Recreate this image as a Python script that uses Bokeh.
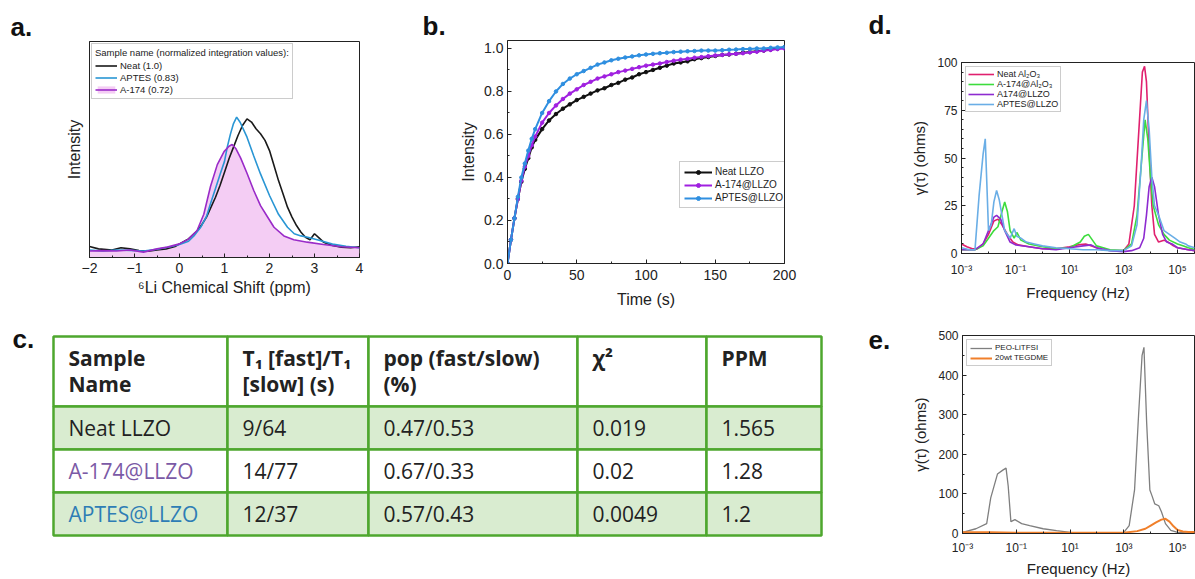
import numpy as np
from bokeh.plotting import figure
from bokeh.models import (Range1d, Label, Legend, LegendItem, FixedTicker, Title,
                          CustomJSTickFormatter, PrintfTickFormatter)
from bokeh.layouts import row, column
from bokeh.embed import file_html
from bokeh.resources import INLINE
from bokeh.core.properties import value

AX_FONT = "Liberation Sans"
TB_FONT = "Open Sans"

# ---------------- panel a : 6Li NMR spectra ----------------
a_neat_x = [-2.0, -1.8, -1.5, -1.3, -1.1, -0.9, -0.7, -0.5, -0.3, -0.1, 0.0, 0.2, 0.4, 0.5, 0.6, 0.7, 0.8, 0.9,
            1.0, 1.1, 1.2, 1.3, 1.4, 1.5, 1.6, 1.7, 1.8, 1.9, 2.0, 2.1, 2.2, 2.3, 2.4, 2.5, 2.6, 2.7, 2.8, 2.9,
            3.0, 3.1, 3.2, 3.4, 3.6, 3.8, 4.0]
a_neat_y = [0.051, 0.040, 0.035, 0.045, 0.040, 0.032, 0.029, 0.035, 0.040, 0.051, 0.063, 0.086, 0.125, 0.153,
            0.187, 0.233, 0.279, 0.333, 0.395, 0.457, 0.511, 0.565, 0.611, 0.642, 0.627, 0.596, 0.573, 0.542,
            0.495, 0.426, 0.356, 0.295, 0.233, 0.187, 0.148, 0.117, 0.094, 0.082, 0.110, 0.091, 0.071, 0.056,
            0.048, 0.045, 0.050]
a_aptes_x = [-2.0, -1.7, -1.4, -1.1, -0.8, -0.5, -0.2, 0.0, 0.2, 0.32, 0.47, 0.6, 0.69, 0.8, 0.91, 1.0, 1.06,
             1.13, 1.2, 1.27, 1.35, 1.5, 1.65, 1.8, 2.0, 2.2, 2.4, 2.55, 2.7, 2.85, 3.1, 3.4, 3.7, 4.0]
a_aptes_y = [0.035, 0.030, 0.035, 0.033, 0.030, 0.038, 0.050, 0.060, 0.075, 0.100, 0.140, 0.190, 0.250, 0.320,
             0.390, 0.445, 0.510, 0.570, 0.620, 0.650, 0.625, 0.557, 0.470, 0.387, 0.287, 0.200, 0.140, 0.110,
             0.100, 0.094, 0.080, 0.062, 0.052, 0.045]
a_a174_x = [-2.0, -1.7, -1.4, -1.1, -0.8, -0.5, -0.27, 0.0, 0.2, 0.39, 0.54, 0.69, 0.84, 0.99, 1.1, 1.17, 1.25,
            1.36, 1.5, 1.65, 1.8, 1.95, 2.1, 2.32, 2.54, 2.84, 3.2, 3.6, 4.0]
a_a174_y = [0.030, 0.032, 0.030, 0.035, 0.025, 0.040, 0.048, 0.063, 0.085, 0.125, 0.200, 0.330, 0.430, 0.490,
            0.515, 0.523, 0.505, 0.460, 0.390, 0.310, 0.240, 0.190, 0.140, 0.100, 0.082, 0.071, 0.060, 0.050,
            0.045]
a_labels = ["Neat (1.0)", "APTES (0.83)", "A-174 (0.72)"]
a_legend_title = "Sample name (normalized integration values):"
a_xticks = [-2, -1, 0, 1, 2, 3, 4]

# ---------------- panel b : T1 recovery ----------------
b_t = [0, 2.5, 5, 7.5, 10, 12.5, 15, 17.5, 20, 25, 30, 35, 40, 45, 50, 55, 60, 65, 70, 75, 80, 85, 90, 95, 100,
       105, 110, 115, 120, 125, 130, 135, 140, 145, 150, 155, 160, 165, 170, 175, 180, 185, 190, 195, 200]
b_neat = [0, 0.11, 0.21, 0.30, 0.38, 0.44, 0.49, 0.54, 0.575, 0.625, 0.665, 0.695, 0.72, 0.74, 0.76, 0.775, 0.79,
          0.805, 0.815, 0.83, 0.84, 0.855, 0.865, 0.88, 0.89, 0.90, 0.91, 0.92, 0.93, 0.935, 0.94, 0.95, 0.955,
          0.96, 0.965, 0.97, 0.972, 0.975, 0.98, 0.983, 0.987, 0.99, 0.995, 1.0, 1.005]
b_a174 = [0, 0.11, 0.21, 0.30, 0.385, 0.45, 0.50, 0.55, 0.59, 0.655, 0.70, 0.735, 0.765, 0.79, 0.81, 0.83, 0.845,
          0.86, 0.87, 0.88, 0.89, 0.897, 0.905, 0.913, 0.92, 0.925, 0.93, 0.937, 0.943, 0.948, 0.952, 0.957, 0.96,
          0.964, 0.967, 0.97, 0.973, 0.975, 0.978, 0.982, 0.985, 0.99, 0.993, 0.997, 1.0]
b_aptes = [0, 0.11, 0.21, 0.31, 0.40, 0.465, 0.525, 0.58, 0.625, 0.70, 0.755, 0.80, 0.835, 0.86, 0.88, 0.895,
           0.91, 0.925, 0.935, 0.945, 0.952, 0.958, 0.963, 0.968, 0.972, 0.975, 0.978, 0.98, 0.983, 0.985, 0.987,
           0.988, 0.99, 0.99, 0.99, 0.992, 0.994, 0.995, 0.997, 0.998, 1.0, 1.0, 1.003, 1.005, 1.007]
b_labels = ["Neat LLZO", "A-174@LLZO", "APTES@LLZO"]
b_xticks = [0, 50, 100, 150, 200]
b_yticks = [0.0, 0.2, 0.4, 0.6, 0.8, 1.0]

# ---------------- panel d : DRT ----------------
d_neat_logf = [-3.0, -2.8, -2.6, -2.4, -2.2, -2.0, -1.8, -1.65, -1.5, -1.3, -1.1, -0.9, -0.5, 0.0, 0.5, 1.0, 1.3,
               1.6, 1.9, 2.2, 2.6, 3.0, 3.2, 3.4, 3.55, 3.7, 3.78, 3.85, 3.95, 4.05, 4.15, 4.3, 4.5, 4.65, 4.85,
               5.0, 5.2, 5.4, 5.65]
d_neat_val = [5, 3.5, 2.5, 2.5, 5, 10, 17, 18, 15, 10, 6, 4.5, 3.5, 2.5, 2.5, 3.5, 4.5, 5, 3.5, 2, 1.5, 1.5, 5, 25,
              60, 95, 98, 90, 55, 25, 10, 6, 7, 6, 4, 3, 2.5, 2, 1.5]
d_green_logf = [-3.0, -2.5, -2.2, -2.0, -1.8, -1.65, -1.5, -1.4, -1.3, -1.2, -1.05, -0.95, -0.8, -0.5, 0.0, 0.5,
                1.0, 1.4, 1.55, 1.7, 1.85, 2.0, 2.5, 3.0, 3.3, 3.5, 3.65, 3.8, 3.9, 4.0, 4.1, 4.3, 4.5, 4.7, 5.0,
                5.2, 5.4, 5.65]
d_green_val = [2, 2, 4, 8, 12, 14, 22, 27, 22, 12, 8, 11, 7, 5, 3.5, 2.5, 3, 6, 9, 10, 7, 4, 2, 1.5, 5, 20, 45, 70,
               60, 40, 25, 15, 10, 7, 5, 4, 3, 2]
d_purple_logf = [-3.0, -2.5, -2.2, -2.0, -1.8, -1.7, -1.55, -1.4, -1.2, -1.0, -0.5, 0.0, 0.5, 1.0, 1.5, 1.8, 2.0,
                 2.5, 3.0, 3.3, 3.6, 3.75, 3.85, 3.95, 4.05, 4.15, 4.3, 4.45, 4.6, 4.8, 5.0, 5.2, 5.4, 5.65]
d_purple_val = [2, 2, 5, 12, 19, 20, 18, 12, 6, 4.5, 3.5, 2.5, 2, 3, 4, 4.5, 3, 1.5, 1, 1.5, 3, 8, 20, 35, 40, 35,
                20, 10, 6, 5, 3, 2.5, 2, 1.5]
d_aptes_logf = [-3.0, -2.7, -2.5, -2.35, -2.2, -2.12, -2.0, -1.9, -1.8, -1.7, -1.6, -1.5, -1.4, -1.2, -1.05,
                -0.95, -0.8, -0.6, -0.3, 0.0, 0.5, 1.0, 1.5, 2.0, 2.5, 3.0, 3.3, 3.5, 3.65, 3.75, 3.85, 3.95, 4.05,
                4.15, 4.3, 4.5, 4.7, 4.9, 5.1, 5.3, 5.4, 5.65]
d_aptes_val = [3, 2, 2, 30, 52, 60, 12, 15, 27, 33, 28, 20, 12, 8, 13, 9, 8, 6, 5, 4, 3, 2.5, 2, 2, 1.5, 1.5, 4,
               15, 45, 70, 80, 65, 40, 25, 20, 12, 10, 8, 6, 5, 4, 3]
d_labels = ["Neat Al\u2082O\u2083", "A-174@Al\u2082O\u2083", "A174@LLZO", "APTES@LLZO"]
d_yticks = [0, 25, 50, 75, 100]
log_ticks = [1e-3, 1e-1, 1e1, 1e3, 1e5]
log_minor = [1e-2, 1e0, 1e2, 1e4]

# ---------------- panel e : DRT ----------------
e_peo_logf = [-3.0, -2.5, -2.1, -1.95, -1.7, -1.5, -1.38, -1.3, -1.2, -1.05, -0.8, -0.5, 0.0, 0.5, 1.0, 1.5, 2.0,
              2.5, 3.0, 3.2, 3.4, 3.55, 3.68, 3.75, 3.85, 3.97, 4.05, 4.15, 4.3, 4.4, 4.55, 4.75, 5.0, 5.2, 5.4,
              5.65]
e_peo_val = [3, 12, 25, 90, 150, 160, 165, 120, 30, 35, 25, 20, 12, 7, 3, 2, 1, 1, 3, 20, 110, 300, 450, 470, 280,
             110, 95, 75, 70, 55, 25, 8, 3, 2, 1, 1]
e_teg_logf = [-3.0, -2.0, -1.0, 0.0, 1.0, 2.0, 3.0, 3.5, 3.8, 4.0, 4.2, 4.4, 4.55, 4.7, 4.85, 5.0, 5.2, 5.4, 5.65]
e_teg_val = [3, 3, 2, 2, 2, 2, 2, 6, 12, 20, 28, 35, 37, 30, 18, 9, 5, 4, 4]
e_labels = ["PEO-LiTFSI", "20wt TEGDME"]
e_yticks = [0, 100, 200, 300, 400, 500]

# ---------------- panel c : table ----------------
tbl_header = ["Sample\nName", "T\u2081 [fast]/T\u2081\n[slow] (s)", "pop (fast/slow)\n(%)", "\u03c7\u00b2", "PPM"]
tbl_names = ["Neat LLZO", "A-174@LLZO", "APTES@LLZO"]
tbl_t1 = ["9/64", "14/77", "12/37"]
tbl_pop = ["0.47/0.53", "0.67/0.33", "0.57/0.43"]
tbl_chi = ["0.019", "0.02", "0.0049"]
tbl_ppm = ["1.565", "1.28", "1.2"]

INK = "#222222"


def make_fig(w, h, lb, rb, tb, bb, **kw):
    p = figure(width=w, height=h, output_backend="svg", toolbar_location=None,
               min_border_left=lb, min_border_right=rb, min_border_top=tb, min_border_bottom=bb, **kw)
    p.xgrid.visible = False
    p.ygrid.visible = False
    p.outline_line_color = INK
    p.outline_line_width = 1
    p.background_fill_color = "white"
    p.border_fill_color = "white"
    return p


def text_canvas(w, h):
    p = figure(width=w, height=h, x_range=Range1d(0, w), y_range=Range1d(h, 0), output_backend="svg",
               toolbar_location=None, min_border=0, x_axis_type=None, y_axis_type=None)
    p.outline_line_color = None
    p.background_fill_color = "white"
    p.border_fill_color = "white"
    return p


def style_axis(ax, tick_size, label_size, tick_standoff, label_standoff):
    ax.axis_line_color = INK
    ax.major_tick_line_color = INK
    ax.minor_tick_line_color = INK
    ax.major_label_text_font = AX_FONT
    ax.major_label_text_font_size = tick_size
    ax.major_label_text_color = INK
    ax.axis_label_text_font = AX_FONT
    ax.axis_label_text_font_size = label_size
    ax.axis_label_text_font_style = "normal"
    ax.axis_label_text_color = INK
    ax.major_label_standoff = tick_standoff
    ax.axis_label_standoff = label_standoff
    ax.major_tick_in = 4
    ax.major_tick_out = 0
    ax.minor_tick_in = 2
    ax.minor_tick_out = 0


def letter_title(p, text, offset):
    p.title = Title(text=text, align="left", offset=offset, standoff=0, text_font=AX_FONT,
                    text_font_size="26px", text_font_style="bold", text_color="#111111",
                    vertical_align="bottom")


def letter_label(p, text, x, y):
    p.add_layout(Label(x=x, y=y, text=text, text_font=AX_FONT, text_font_size="26px",
                       text_font_style="bold", text_color="#111111", text_baseline="alphabetic"))


def legend(items, loc, fsize, gw, lh, spacing, padding, margin, title=None):
    lg = Legend(items=items, location=loc, label_text_font=AX_FONT, label_text_font_size=fsize,
                label_text_color=INK, glyph_width=gw, glyph_height=lh, label_height=lh,
                label_standoff=3, spacing=spacing, padding=padding, margin=margin,
                border_line_color="#999999", border_line_width=1, background_fill_alpha=1)
    if title:
        lg.title = title
        lg.title_text_font = AX_FONT
        lg.title_text_font_size = fsize
        lg.title_text_font_style = "normal"
        lg.title_text_color = INK
        lg.title_standoff = 2
    return lg


log_fmt = CustomJSTickFormatter(code="""
const e = Math.round(Math.log10(tick));
const m = {"-":"\u207b","0":"\u2070","1":"\u00b9","2":"\u00b2","3":"\u00b3","4":"\u2074","5":"\u2075","6":"\u2076","7":"\u2077","8":"\u2078","9":"\u2079"};
return "10" + String(e).split("").map(c => m[c]).join("");
""")

X_END = 10 ** 5.63

# ================= panel a =================
pa = make_fig(395, 318, 89, 36, 41, 61, x_range=Range1d(-2, 4), y_range=Range1d(0, 1))
r_fill = pa.varea(x=a_a174_x, y1=0, y2=a_a174_y, fill_color="#f4cdf4", fill_alpha=1)
r_neat = pa.line(a_neat_x, a_neat_y, line_color="#1a1a1a", line_width=1.6)
r_aptes = pa.line(a_aptes_x, a_aptes_y, line_color="#2a96d4", line_width=1.6)
r_a174 = pa.line(a_a174_x, a_a174_y, line_color="#9a2bc8", line_width=1.6)
pa.xaxis.ticker = FixedTicker(ticks=a_xticks, minor_ticks=list(np.arange(-2, 4.01, 0.5)))
pa.yaxis.ticker = FixedTicker(ticks=[])
pa.xaxis.axis_label = "\u2076Li Chemical Shift (ppm)"
pa.yaxis.axis_label = "Intensity"
style_axis(pa.xaxis[0], "14px", "16px", 5, 3)
style_axis(pa.yaxis[0], "14px", "16px", 0, 7)
pa.add_layout(legend([LegendItem(label=a_labels[0], renderers=[r_neat]),
                      LegendItem(label=a_labels[1], renderers=[r_aptes]),
                      LegendItem(label=a_labels[2], renderers=[r_fill, r_a174])],
                     "top_left", "9.5px", 22, 9, 1, 3, 2, title=a_legend_title))
letter_title(pa, "a.", -79)

# ================= panel b =================
pb = make_fig(435, 318, 112, 46, 40, 55, x_range=Range1d(0, 200), y_range=Range1d(0, 1.037))
b_cols = ["#111111", "#a020e0", "#2f8fe0"]
b_items = []
for ys, col, lab in zip([b_neat, b_a174, b_aptes], b_cols, b_labels):
    rl = pb.line(b_t, ys, line_color=col, line_width=2)
    rs = pb.scatter(b_t, ys, size=3.5, fill_color=col, line_color=col)
    b_items.append(LegendItem(label=lab, renderers=[rl, rs]))
pb.xaxis.ticker = FixedTicker(ticks=b_xticks, minor_ticks=list(range(0, 201, 25)))
pb.yaxis.ticker = FixedTicker(ticks=b_yticks, minor_ticks=list(np.arange(0, 1.01, 0.1)))
pb.yaxis.formatter = PrintfTickFormatter(format="%.1f")
pb.xaxis.axis_label = "Time (s)"
pb.yaxis.axis_label = "Intensity"
style_axis(pb.xaxis[0], "14px", "16px", 6, 8)
style_axis(pb.yaxis[0], "14px", "16px", 4, 4)
pb.add_layout(legend(b_items, (172, 55), "10px", 28, 10, 2, 4, 0))
letter_title(pb, "b.", -85)

# ================= panel d (letter strip + plot) =================
D_STRIP = 44
pdl = text_canvas(365, D_STRIP)
letter_label(pdl, "d.", 38, 24)
pd_ = make_fig(365, 318 - D_STRIP, 131, 1, 62 - D_STRIP, 65, x_axis_type="log",
               x_range=Range1d(1e-3, X_END), y_range=Range1d(0, 100))
d_cols = ["#e0206e", "#3ddc3d", "#8e2bd0", "#6aaee6"]
d_items = []
for lf, vals, col, lab in zip([d_neat_logf, d_green_logf, d_purple_logf, d_aptes_logf],
                              [d_neat_val, d_green_val, d_purple_val, d_aptes_val], d_cols, d_labels):
    r = pd_.line([10 ** v for v in lf], vals, line_color=col, line_width=1.6)
    d_items.append(LegendItem(label=lab, renderers=[r]))
pd_.xaxis.ticker = FixedTicker(ticks=log_ticks, minor_ticks=log_minor)
pd_.xaxis.formatter = log_fmt
pd_.yaxis.ticker = FixedTicker(ticks=d_yticks, minor_ticks=list(range(0, 101, 5)))
pd_.xaxis.axis_label = "Frequency (Hz)"
pd_.yaxis.axis_label = "\u03b3(\u03c4) (ohms)"
style_axis(pd_.xaxis[0], "12px", "15px", 9, 4)
style_axis(pd_.yaxis[0], "12px", "15px", 4, 6)
pd_.add_layout(legend(d_items, "top_left", "9px", 26, 8, 0, 2, 4))

# ================= panel e =================
pe = make_fig(305, 261, 72, 1, 17, 46, x_axis_type="log",
              x_range=Range1d(1e-3, X_END), y_range=Range1d(0, 500))
e_cols = ["#7f7f7f", "#f07f2a"]
e_items = []
for lf, vals, col, lab, lw in zip([e_peo_logf, e_teg_logf], [e_peo_val, e_teg_val], e_cols, e_labels, [1.3, 2]):
    r = pe.line([10 ** v for v in lf], vals, line_color=col, line_width=lw)
    e_items.append(LegendItem(label=lab, renderers=[r]))
pe.xaxis.ticker = FixedTicker(ticks=log_ticks, minor_ticks=log_minor)
pe.xaxis.formatter = log_fmt
pe.yaxis.ticker = FixedTicker(ticks=e_yticks, minor_ticks=list(range(0, 501, 50)))
pe.xaxis.axis_label = "Frequency (Hz)"
pe.yaxis.axis_label = "\u03b3(\u03c4) (ohms)"
style_axis(pe.xaxis[0], "12px", "15px", 7, 2)
style_axis(pe.yaxis[0], "12px", "15px", 4, 6)
pe.add_layout(legend(e_items, "top_left", "8px", 22, 8, 1, 3, 4))

# ================= panel c : table (also carries the "e." letter) =================
TW, TH = 890, 261
pc = text_canvas(TW, TH)
col_w = [174, 141, 209, 129, 115]
row_h = [70, 43, 43, 43]
x0, y0 = 53, 18
col_left = [x0 + sum(col_w[:i]) for i in range(len(col_w))]
row_top = [y0 + sum(row_h[:i]) for i in range(len(row_h))]
row_fill = ["white", "#d9ecd0", "white", "#d9ecd0"]
L, R, T, B, F = [], [], [], [], []
for ri in range(len(row_h)):
    for ci in range(len(col_w)):
        L.append(col_left[ci]); R.append(col_left[ci] + col_w[ci])
        T.append(row_top[ri]); B.append(row_top[ri] + row_h[ri]); F.append(row_fill[ri])
pc.quad(left=L, right=R, top=T, bottom=B, fill_color=F, line_color="#4ea72e", line_width=2.5)
pc.text(x=[c + 15 for c in col_left], y=[row_top[0] + 7] * 5, text=tbl_header,
        text_font=value(TB_FONT), text_font_size="21px", text_font_style="bold", text_color=INK,
        text_baseline="top", text_line_height=0.95)
name_cols = [INK, "#7b5aa6", "#2e7db5"]
bx, by, bt, bc = [], [], [], []
for ri in range(3):
    cells = [tbl_names[ri], tbl_t1[ri], tbl_pop[ri], tbl_chi[ri], tbl_ppm[ri]]
    for ci in range(5):
        bx.append(col_left[ci] + 15)
        by.append(row_top[ri + 1] + row_h[ri + 1] / 2)
        bt.append(cells[ci])
        bc.append(name_cols[ri] if ci == 0 else INK)
pc.text(x=bx, y=by, text=bt, text_font=value(TB_FONT), text_font_size="21px", text_color=bc,
        text_baseline="middle")
letter_label(pc, "c.", 12, 20)
letter_label(pc, "e.", 868, 21)

layout = column(row(column(pa), column(pb), column(column(pdl), column(pd_))),
                row(column(pc), column(pe)))
open("out.html", "w").write(file_html(layout, INLINE, "figure"))
